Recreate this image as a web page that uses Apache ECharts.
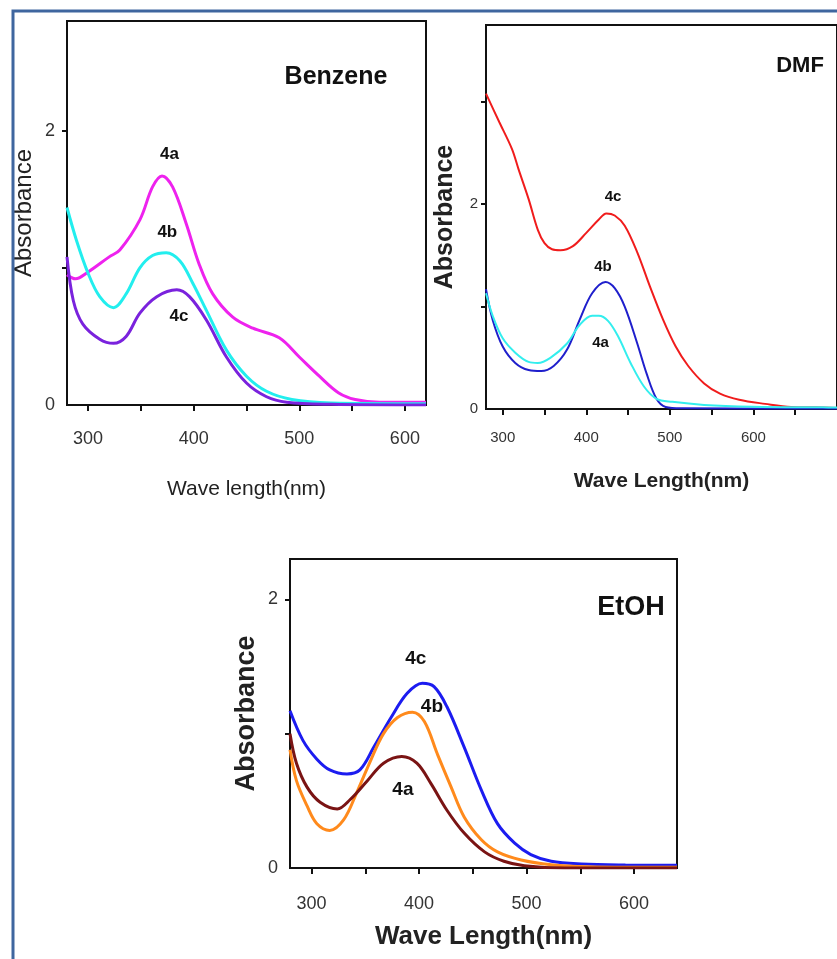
<!DOCTYPE html>
<html>
<head>
<meta charset="utf-8">
<script src="https://cdn.jsdelivr.net/npm/echarts@6/dist/echarts.min.js"></script>
<style>
  html, body { margin: 0; padding: 0; background: #fff; }
  #chart { width: 837px; height: 959px; }
</style>
</head>
<body>
<div id="chart"></div>
<script>
// 苯 (Benzene)
var benzNm4a = [280, 288, 300, 320, 330, 349, 361, 370, 380, 393, 405, 418, 437, 456, 481, 500, 519, 537, 553, 576, 620];
var benzAbs4a = [0.95, 0.92, 0.97, 1.08, 1.13, 1.35, 1.59, 1.67, 1.59, 1.32, 1.03, 0.81, 0.64, 0.56, 0.49, 0.35, 0.21, 0.09, 0.04, 0.02, 0.02];
var benzNm4b = [280, 289, 300, 311, 324, 336, 349, 361, 374, 387, 399, 412, 431, 450, 469, 493, 530, 620];
var benzAbs4b = [1.44, 1.2, 0.96, 0.79, 0.71, 0.81, 1.0, 1.09, 1.11, 1.05, 0.89, 0.69, 0.40, 0.21, 0.10, 0.04, 0.015, 0.01];
var benzNm4c = [280, 286, 295, 311, 324, 336, 349, 365, 384, 396, 412, 431, 450, 469, 488, 530, 620];
var benzAbs4c = [1.08, 0.76, 0.59, 0.48, 0.45, 0.5, 0.67, 0.79, 0.84, 0.79, 0.62, 0.35, 0.16, 0.06, 0.02, 0.005, 0.0];

// DMF
var dmfNm4c = [280, 296, 311, 319, 331, 342, 350, 359, 369, 384, 400, 415, 424, 434, 446, 461, 476, 492, 507, 522, 541, 560, 583, 614, 645, 675, 700];
var dmfAbs4c = [3.08, 2.80, 2.54, 2.34, 2.05, 1.75, 1.62, 1.56, 1.55, 1.59, 1.72, 1.85, 1.91, 1.89, 1.79, 1.53, 1.20, 0.87, 0.61, 0.42, 0.25, 0.15, 0.09, 0.05, 0.02, 0.016, 0.01];
var dmfNm4b = [280, 288, 300, 315, 331, 346, 361, 377, 392, 407, 423, 434, 446, 461, 472, 484, 495, 514, 700];
var dmfAbs4b = [1.17, 0.87, 0.61, 0.45, 0.38, 0.37, 0.42, 0.58, 0.87, 1.13, 1.24, 1.18, 1.00, 0.64, 0.35, 0.10, 0.02, 0.007, 0.005];
var dmfNm4a = [280, 288, 300, 315, 331, 342, 357, 377, 392, 407, 415, 426, 438, 453, 469, 484, 503, 541, 599, 683, 700];
var dmfAbs4a = [1.13, 0.91, 0.69, 0.55, 0.46, 0.45, 0.50, 0.64, 0.82, 0.91, 0.91, 0.86, 0.71, 0.45, 0.22, 0.10, 0.07, 0.04, 0.023, 0.016, 0.015];

// EtOH
var etohNm4c = [280, 292, 305, 317, 333, 345, 358, 374, 389, 403, 414, 426, 442, 458, 473, 489, 504, 523, 551, 592, 640];
var etohAbs4c = [1.17, 0.95, 0.81, 0.73, 0.70, 0.73, 0.90, 1.12, 1.30, 1.375, 1.35, 1.20, 0.90, 0.58, 0.33, 0.185, 0.10, 0.05, 0.03, 0.022, 0.02];
var etohNm4b = [280, 286, 296, 305, 317, 330, 342, 355, 367, 380, 394, 405, 417, 430, 442, 458, 473, 495, 523, 557, 640];
var etohAbs4b = [0.88, 0.65, 0.46, 0.33, 0.28, 0.36, 0.56, 0.80, 1.0, 1.12, 1.16, 1.09, 0.85, 0.60, 0.38, 0.21, 0.12, 0.06, 0.025, 0.01, 0.005];
var etohNm4a = [280, 286, 296, 308, 324, 336, 352, 367, 384, 398, 411, 426, 442, 461, 479, 498, 535, 640];
var etohAbs4a = [1.0, 0.78, 0.60, 0.49, 0.44, 0.51, 0.65, 0.78, 0.83, 0.78, 0.63, 0.43, 0.26, 0.12, 0.05, 0.017, 0.0, 0.0];

// 刻度
var xLabels = [300, 400, 500, 600];
var xTicksShort = [300, 350, 400, 450, 500, 550, 600];
var xTicksLong = [300, 350, 400, 450, 500, 550, 600, 650];
var yLabels = [0, 2];

// 曲线旁的标注 [nm, absorbance]
var benzTags = [['4a', 377, 1.83], ['4b', 375, 1.26], ['4c', 386, 0.65]];
var dmfTags = [['4c', 432, 2.07], ['4b', 420, 1.39], ['4a', 417, 0.65]];
var etohTags = [['4c', 397, 1.56], ['4b', 412, 1.2], ['4a', 385, 0.58]];

var FONT = 'Liberation Sans, Arial, sans-serif';

function pairs(xs, ys) {
  return xs.map(function (x, i) { return [x, ys[i]]; });
}

function tagPoints(tags, size) {
  return {
    symbol: 'circle',
    symbolSize: 1,
    itemStyle: { color: 'rgba(0,0,0,0)' },
    label: {
      show: true, position: 'inside', color: '#111',
      fontWeight: 'bold', fontSize: size, fontFamily: FONT,
      formatter: function (p) { return p.name; }
    },
    data: tags.map(function (t) { return { name: t[0], coord: [t[1], t[2]] }; })
  };
}

function line(name, idx, data, color, width, tags, tagSize) {
  var s = {
    name: name, type: 'line', xAxisIndex: idx, yAxisIndex: idx,
    data: data, smooth: 0.35, showSymbol: false,
    lineStyle: { color: color, width: width }
  };
  if (tags) s.markPoint = tagPoints(tags, tagSize);
  return s;
}

function xAxisCfg(idx, min, max, ticks, fontSize, margin, name, nameSize, nameBold, nameGap) {
  return {
    gridIndex: idx, type: 'value', min: min, max: max,
    axisLine: { show: true, lineStyle: { color: '#111', width: 2 } },
    axisTick: { show: true, customValues: ticks, length: 6, lineStyle: { color: '#111', width: 2 } },
    axisLabel: { customValues: xLabels, fontSize: fontSize, color: '#333', fontFamily: FONT, margin: margin },
    splitLine: { show: false },
    name: name, nameLocation: 'middle', nameGap: nameGap,
    nameTextStyle: { fontSize: nameSize, fontWeight: nameBold ? 'bold' : 'normal', color: '#222', fontFamily: FONT }
  };
}

function yAxisCfg(idx, max, ticks, fontSize, margin, nameSize, nameBold, nameGap) {
  return {
    gridIndex: idx, type: 'value', min: 0, max: max,
    axisLine: { show: true, lineStyle: { color: '#111', width: 2 } },
    axisTick: { show: true, customValues: ticks, length: 5, lineStyle: { color: '#111', width: 2 } },
    axisLabel: { customValues: yLabels, fontSize: fontSize, color: '#333', fontFamily: FONT, margin: margin },
    splitLine: { show: false },
    name: 'Absorbance', nameLocation: 'middle', nameGap: nameGap,
    nameTextStyle: { fontSize: nameSize, fontWeight: nameBold ? 'bold' : 'normal', color: '#222', fontFamily: FONT }
  };
}

var chart = echarts.init(document.getElementById('chart'));
chart.setOption({
  animation: false,
  backgroundColor: '#fff',
  graphic: [{
    type: 'rect', shape: { x: 13, y: 11, width: 900, height: 1000 },
    style: { fill: 'none', stroke: '#3f669f', lineWidth: 3 }, z: 100
  }],
  title: [
    { text: 'Benzene', left: 331, top: 60, textAlign: 'center',
      textStyle: { fontSize: 25, fontWeight: 'bold', color: '#111', fontFamily: FONT } },
    { text: 'DMF', left: 795, top: 50, textAlign: 'center',
      textStyle: { fontSize: 22, fontWeight: 'bold', color: '#111', fontFamily: FONT } },
    { text: 'EtOH', left: 626, top: 589, textAlign: 'center',
      textStyle: { fontSize: 27, fontWeight: 'bold', color: '#111', fontFamily: FONT } }
  ],
  grid: [
    { left: 67, top: 21, width: 359, height: 384, show: true, borderColor: '#111', borderWidth: 2 },
    { left: 486, top: 25, width: 365, height: 384, show: true, borderColor: '#111', borderWidth: 2 },
    { left: 290, top: 559, width: 387, height: 309, show: true, borderColor: '#111', borderWidth: 2 }
  ],
  xAxis: [
    xAxisCfg(0, 280, 620, xTicksShort, 18, 25, 'Wave length(nm)', 21, false, 74),
    xAxisCfg(1, 280, 700, xTicksLong, 15, 21, 'Wave Length(nm)', 21, true, 62),
    xAxisCfg(2, 280, 640, xTicksShort, 18, 27, 'Wave Length(nm)', 26, true, 56)
  ],
  yAxis: [
    yAxisCfg(0, 2.8, [1, 2], 18, 12, 24, false, 31),
    yAxisCfg(1, 3.75, [1, 2, 3], 15, 8, 25, true, 28),
    yAxisCfg(2, 2.3, [1, 2], 18, 12, 27, true, 30)
  ],
  series: [
    line('4a', 0, pairs(benzNm4a, benzAbs4a), '#ee22ee', 3, benzTags, 17),
    line('4b', 0, pairs(benzNm4b, benzAbs4b), '#22eeee', 3),
    line('4c', 0, pairs(benzNm4c, benzAbs4c), '#7a22dd', 3),
    line('4c', 1, pairs(dmfNm4c, dmfAbs4c), '#f01c1c', 2, dmfTags, 15),
    line('4b', 1, pairs(dmfNm4b, dmfAbs4b), '#1f1fcc', 2),
    line('4a', 1, pairs(dmfNm4a, dmfAbs4a), '#33eeee', 2),
    line('4c', 2, pairs(etohNm4c, etohAbs4c), '#1c1cf0', 3, etohTags, 19),
    line('4b', 2, pairs(etohNm4b, etohAbs4b), '#ff8a1c', 3),
    line('4a', 2, pairs(etohNm4a, etohAbs4a), '#7a1414', 3)
  ]
});
</script>
</body>
</html>
